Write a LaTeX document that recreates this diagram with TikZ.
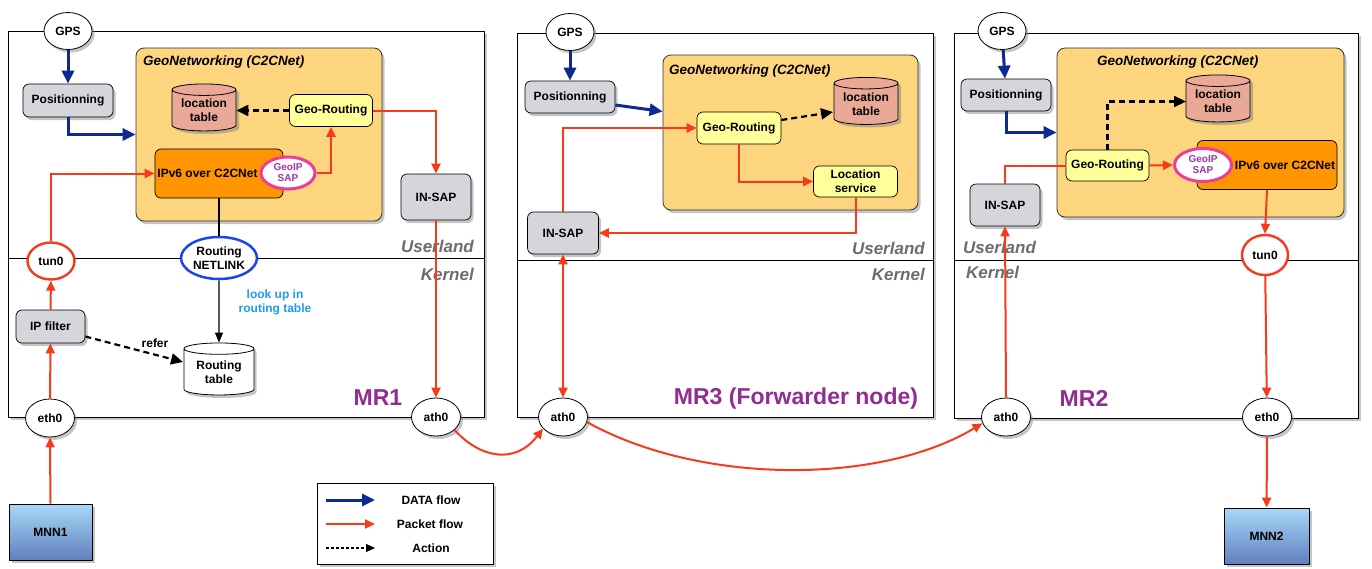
\documentclass[tikz,border=0pt]{standalone}
\usepackage{fontspec}
\setmainfont{Liberation Sans}
\usetikzlibrary{shapes.geometric,arrows.meta,shadows,calc}
\definecolor{pktred}{HTML}{F8391C}
\definecolor{datablue}{HTML}{0D2A94}
\definecolor{nlblue}{HTML}{1A45F0}
\definecolor{geoipmag}{HTML}{EC3D9B}
\definecolor{geoiptext}{HTML}{9A36A8}
\definecolor{mrpurple}{HTML}{922C92}
\definecolor{gnfill}{HTML}{FDD57E}
\definecolor{ipvfill}{HTML}{FF9500}
\definecolor{grfill}{HTML}{FFFF99}
\definecolor{ltfill}{HTML}{E9A996}
\definecolor{boxgray}{HTML}{D4D6DB}
\definecolor{lookblue}{HTML}{1E9CF4}
\definecolor{layergray}{HTML}{6D6D6D}
\definecolor{mnntop}{HTML}{A8D8F8}
\definecolor{mnnbot}{HTML}{6080BE}
\begin{document}
\begin{tikzpicture}[x=1pt,y=-1pt,
  font=\bfseries\fontsize{12}{14}\selectfont,
  shad/.style={drop shadow={opacity=0.45,shadow xshift=2.5pt,shadow yshift=-3pt}},
  frame/.style={rectangle,draw=black,line width=0.8pt,fill=white,inner sep=0,shad},
  gnbox/.style={rectangle,draw=black!80,line width=0.8pt,fill=gnfill,rounded corners=8pt,inner sep=0,shad},
  graybox/.style={rectangle,draw=black,line width=0.7pt,fill=boxgray,rounded corners=6pt,inner sep=0,minimum width=90pt,minimum height=33pt,shad},
  yelbox/.style={rectangle,draw=black,line width=0.7pt,fill=grfill,rounded corners=6pt,inner sep=0,minimum width=83pt,minimum height=32pt,align=center},
  ipvbox/.style={rectangle,draw=black,line width=0.7pt,fill=ipvfill,rounded corners=6pt,inner sep=0,minimum height=49pt},
  iface/.style={ellipse,draw=black,line width=0.8pt,fill=white,minimum width=49pt,minimum height=38pt,inner sep=0,shad},
  tunnode/.style={ellipse,draw=pktred,line width=2.4pt,fill=white,minimum width=47pt,minimum height=37pt,inner sep=0},
  nlnode/.style={ellipse,draw=nlblue,line width=2.5pt,fill=white,minimum width=76pt,minimum height=42pt,inner sep=0,align=center},
  geoip/.style={ellipse,draw=geoipmag,line width=3pt,fill=white,minimum width=54pt,minimum height=32pt,inner sep=0,align=center,text=geoiptext,font=\bfseries\fontsize{10}{11}\selectfont},
  dbcyl/.style={cylinder,shape border rotate=90,aspect=0.25,draw=black,line width=0.8pt,minimum width=64pt,minimum height=47pt,inner sep=0,align=center},
  mnnbox/.style={rectangle,draw=black,line width=0.8pt,top color=mnntop,bottom color=mnnbot,minimum width=84pt,minimum height=56pt,inner sep=0,shad},
  layer/.style={text=layergray,font=\bfseries\itshape\fontsize{17}{19}\selectfont,inner sep=0},
  mrlabel/.style={text=mrpurple,font=\bfseries\fontsize{23}{25}\selectfont,inner sep=0},
  gntitle/.style={font=\bfseries\itshape\fontsize{13.5}{15}\selectfont,anchor=west,inner sep=0},
  pkt/.style={draw=pktred,line width=2pt,-{Triangle[length=10pt,width=9pt]}},
  pktline/.style={draw=pktred,line width=2pt},
  datafl/.style={draw=datablue,line width=3pt,-{Triangle[length=13pt,width=12pt]}},
  act/.style={draw=black,line width=2.2pt,dash pattern=on 6pt off 4pt,-{Triangle[length=12pt,width=11pt]}},
  blk/.style={draw=black,line width=1.4pt}
]
\useasboundingbox (0,0) rectangle (1372,568);

% ---------------- frames ----------------
\node[frame,minimum width=476pt,minimum height=386pt] (mr1) at (246,224) {};
\node[frame,minimum width=416pt,minimum height=384pt] (mr3) at (725,225) {};
\node[frame,minimum width=404pt,minimum height=385pt] (mr2) at (1156,225.5) {};
\draw[line width=0.8pt] (mr1.west |- 0,258) -- (mr1.east |- 0,258);
\draw[line width=0.8pt] (mr3.west |- 0,260) -- (mr3.east |- 0,260);
\draw[line width=0.8pt] (mr2.west |- 0,260) -- (mr2.east |- 0,260);

% ---------------- MR1 ----------------
\node[gnbox,minimum width=246pt,minimum height=173pt] (gn1) at (259,134.5) {};
\node[gntitle] (gn1t) at (143,62) {GeoNetworking (C2CNet)};
\node[iface,minimum width=48pt,minimum height=37pt] (gps1) at (68,31) {GPS};
\node[graybox] (pos1) at (68,100.5) {Positionning};
\node[dbcyl,fill=ltfill,drop shadow={opacity=0.5,shadow xshift=3pt,shadow yshift=-3pt}] (lt1) at (204,110.5) {location\\table};
\node[yelbox] (gr1) at (331,110.5) {Geo-Routing};
\node[ipvbox,minimum width=128pt] (ipv6a) at (219,173.5) {};
\node[inner sep=0] (ipv6at) at (207.5,173.5) {IPv6 over C2CNet};
\node[geoip] (sap1) at (288,173) {GeoIP\\SAP};
\node[graybox,minimum width=70pt,minimum height=46pt] (insap1) at (436,197) {IN-SAP};
\node[tunnode] (tun0a) at (51,261) {tun0};
\node[nlnode] (nl1) at (219,258) {Routing\\NETLINK};
\node[dbcyl,fill=white,minimum width=70pt,minimum height=52pt,shad] (rt1) at (219,372) {Routing\\table};
\node[graybox,minimum width=69pt] (ipf1) at (50.5,326.5) {IP filter};
\node[iface] (eth0a) at (50,418) {eth0};
\node[iface] (ath0a) at (436,417) {ath0};
\node[mnnbox,minimum width=83pt] (mnn1) at (50.5,532) {MNN1};
\node[layer,anchor=east] (ul1) at (474,246) {Userland};
\node[layer,anchor=east] (kn1) at (474,274) {Kernel};
\node[mrlabel] (mr1l) at (378,398) {MR1};
\node[text=lookblue,align=center,inner sep=0] (look1) at (275,302) {look up in\\routing table};
\node[inner sep=0] (refer1) at (155,343) {refer};

\draw[datafl] (gps1) -- (pos1);
\draw[datafl] (pos1.south) |- (gn1.west);
\draw[act] (gr1) -- (lt1);
\draw[pkt] (sap1.east) -| (gr1.south);
\draw[pkt] (gr1.east) -| (insap1.north);
\draw[pkt] (insap1.south) -- (ath0a.north);
\draw[pkt] (tun0a.north) |- (ipv6a.west);
\draw[blk] (ipv6a.south) -- (nl1.north);
\draw[blk,-{Triangle[length=10pt,width=8pt]}] (nl1) -- (rt1);
\draw[pkt] (ipf1) -- (tun0a);
\draw[pkt] (eth0a) -- (ipf1);
\draw[act] ([yshift=-10pt]ipf1.east) -- ([xshift=-36pt,yshift=10pt]rt1.center);
\draw[pkt] (mnn1) -- (eth0a);

% ---------------- MR3 ----------------
\node[gnbox,minimum width=255pt,minimum height=155pt] (gn3) at (790.5,132.5) {};
\node[gntitle] (gn3t) at (669,71) {GeoNetworking (C2CNet)};
\node[iface,minimum width=48pt,minimum height=37pt] (gps3) at (570,32) {GPS};
\node[graybox,minimum height=32pt] (pos3) at (570,97) {Positionning};
\node[dbcyl,fill=ltfill,drop shadow={opacity=0.5,shadow xshift=3pt,shadow yshift=-3pt}] (lt3) at (866,104) {location\\table};
\node[yelbox,minimum width=84pt] (gr3) at (739,128) {Geo-Routing};
\node[yelbox,minimum width=84pt,minimum height=31pt] (ls3) at (855.5,181.5) {Location\\service};
\node[graybox,minimum width=71pt,minimum height=42pt] (insap3) at (563,233) {IN-SAP};
\node[iface] (ath0c) at (563,417) {ath0};
\node[layer,anchor=east] (ul3) at (925,248) {Userland};
\node[layer,anchor=east] (kn3) at (925,274) {Kernel};
\node[mrlabel] (mr3l) at (796,399) {MR3 (Forwarder node)};

\draw[datafl] (gps3) -- (pos3);
\draw[datafl] ([yshift=-8pt]pos3.east) -- ([yshift=21pt]gn3.west);
\draw[act] ([yshift=8pt]gr3.east) -- ([xshift=-33pt,yshift=-8pt]lt3.center);
\draw[pkt] (gr3.south) |- (ls3.west);
\draw[pkt] (ls3.south) |- (insap3.east);
\draw[pkt] (insap3.north) |- (gr3.west);
\draw[pkt,{Triangle[length=10pt,width=9pt]}-{Triangle[length=10pt,width=9pt]}] (insap3.south) -- (ath0c.north);

% ---------------- MR2 ----------------
\node[gnbox,minimum width=287pt,minimum height=169pt] (gn2) at (1200.5,132.5) {};
\node[gntitle] (gn2t) at (1097,62) {GeoNetworking (C2CNet)};
\node[iface,minimum width=48pt,minimum height=37pt] (gps2) at (1002,31) {GPS};
\node[graybox,minimum height=32pt] (pos2) at (1006,95) {Positionning};
\node[dbcyl,fill=ltfill,drop shadow={opacity=0.5,shadow xshift=3pt,shadow yshift=-3pt}] (lt2) at (1218,101.5) {location\\table};
\node[yelbox,minimum height=31pt] (gr2) at (1107.5,165.5) {Geo-Routing};
\node[ipvbox,minimum width=140pt] (ipv6b) at (1267,165) {};
\node[inner sep=0] (ipv6bt) at (1285,165) {IPv6 over C2CNet};
\node[geoip,minimum width=57pt,minimum height=33pt] (sap2) at (1203,165) {GeoIP\\SAP};
\node[tunnode,minimum width=46pt,minimum height=40pt] (tun0b) at (1265,255) {tun0};
\node[graybox,minimum width=70pt,minimum height=42pt] (insap2) at (1005,205) {IN-SAP};
\node[iface] (ath0b) at (1006,417) {ath0};
\node[iface] (eth0b) at (1267,417) {eth0};
\node[mnnbox,minimum width=85pt] (mnn2) at (1266.5,536) {MNN2};
\node[layer,anchor=west] (ul2) at (963,247) {Userland};
\node[layer,anchor=west] (kn2) at (966,272) {Kernel};
\node[mrlabel] (mr2l) at (1084,398) {MR2};

\draw[datafl] (gps2) -- (pos2);
\draw[datafl] (pos2.south) |- (gn2.west);
\draw[act] (gr2.north) |- ([xshift=-32pt]lt2.center);
\draw[pkt] (gr2.east) -- (sap2.west);
\draw[pkt] (ipv6b.south) -- (tun0b.north);
\draw[pktline] (insap2.north) |- (gr2.west);
\draw[pkt] (ath0b.north) -- (insap2.south);
\draw[pkt] (tun0b) -- (eth0b);
\draw[pkt] (eth0b) -- (mnn2);

% ---------------- wireless links ----------------
\draw[pkt] (ath0a.-35) .. controls (480,458) and (515,465) .. (ath0c.-150);
\draw[pkt] (ath0c.-12) .. controls (700,485) and (880,485) .. (ath0b.-165);

% ---------------- legend ----------------
\node[frame,minimum width=176pt,minimum height=81pt] (leg) at (405,523.5) {};
\coordinate (la1) at (326,500); \coordinate (lb1) at (375,500);
\coordinate (la2) at (326,524); \coordinate (lb2) at (375,524);
\coordinate (la3) at (326,548); \coordinate (lb3) at (375,548);
\draw[datafl] (la1) -- (lb1);
\draw[pkt] (la2) -- (lb2);
\draw[draw=black,line width=1.2pt,dash pattern=on 3pt off 2pt,-{Triangle[length=9pt,width=8pt]}] (la3) -- (lb3);
\node[inner sep=0] (lt1x) at (431,500) {DATA flow};
\node[inner sep=0] (lt2x) at (430,524) {Packet flow};
\node[inner sep=0] (lt3x) at (431,548) {Action};
\end{tikzpicture}
\end{document}
